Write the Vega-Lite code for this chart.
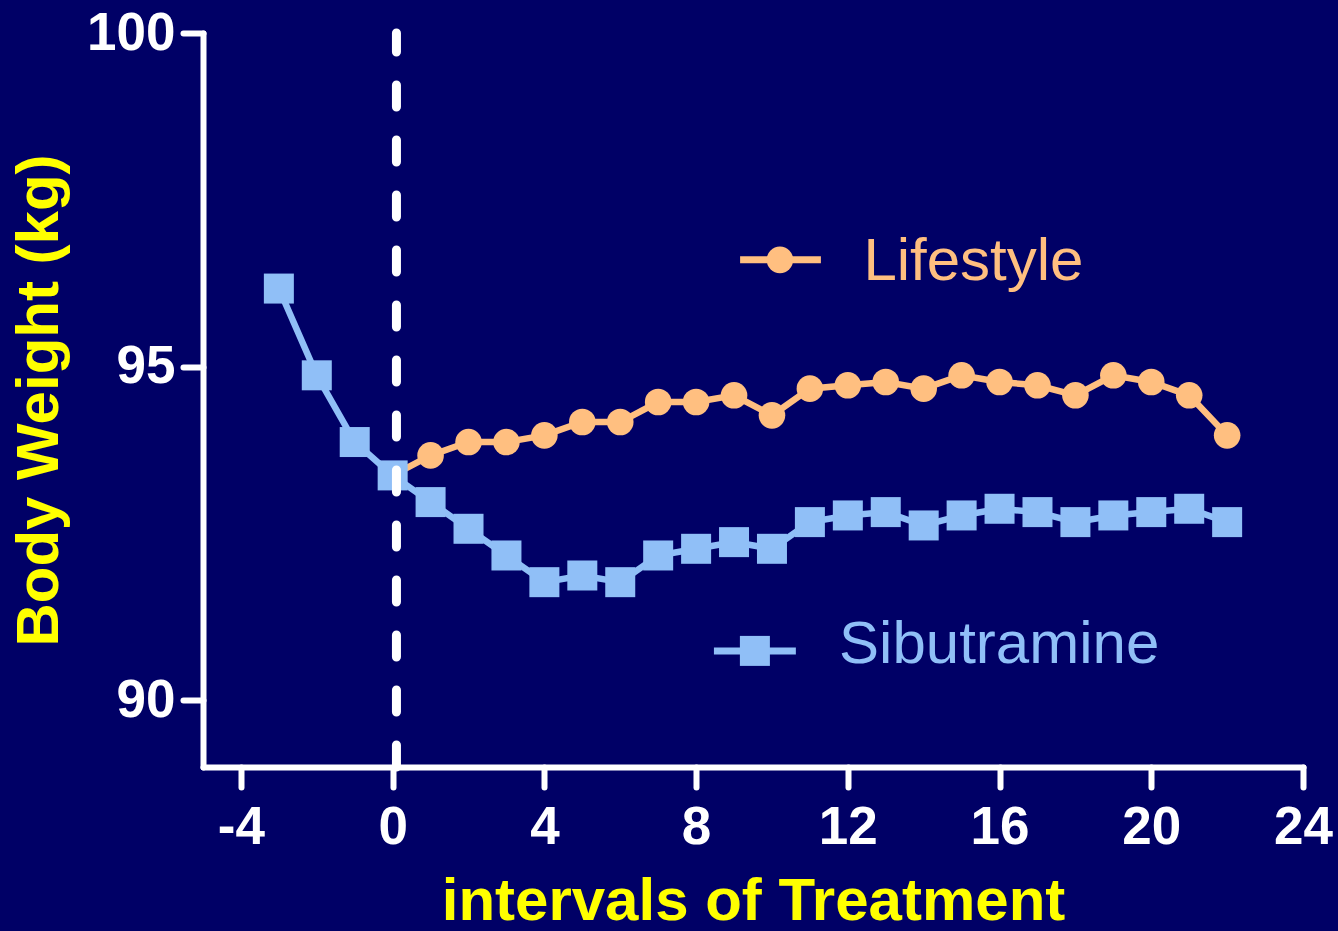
{
  "$schema": "https://vega.github.io/schema/vega-lite/v6.json",
  "width": 1100,
  "height": 734,
  "autosize": {"type": "none"},
  "padding": {"left": 203, "top": 33, "right": 35, "bottom": 164},
  "background": "#000066",
  "config": {
    "view": {"stroke": null},
    "font": "Liberation Sans",
    "axis": {
      "grid": false,
      "domainColor": "white",
      "domainWidth": 6,
      "domainCap": "round",
      "tickColor": "white",
      "tickWidth": 6,
      "tickSize": 20,
      "tickCap": "round",
      "labelFont": "Liberation Sans",
      "labelFontWeight": "bold",
      "labelFontSize": 53,
      "labelColor": "white",
      "labelFlush": false,
      "labelOverlap": false,
      "titleFont": "Liberation Sans",
      "titleFontWeight": "bold",
      "titleFontSize": 60,
      "titleColor": "#FFFF00"
    },
    "axisX": {"labelPadding": 14, "titlePadding": 18},
    "axisY": {"labelPadding": 8, "titlePadding": 16}
  },
  "datasets": {
    "weights": [
      {"t": 0, "weight": 93.37, "series": "Lifestyle"},
      {"t": 1, "weight": 93.67, "series": "Lifestyle"},
      {"t": 2, "weight": 93.87, "series": "Lifestyle"},
      {"t": 3, "weight": 93.87, "series": "Lifestyle"},
      {"t": 4, "weight": 93.97, "series": "Lifestyle"},
      {"t": 5, "weight": 94.17, "series": "Lifestyle"},
      {"t": 6, "weight": 94.17, "series": "Lifestyle"},
      {"t": 7, "weight": 94.47, "series": "Lifestyle"},
      {"t": 8, "weight": 94.47, "series": "Lifestyle"},
      {"t": 9, "weight": 94.57, "series": "Lifestyle"},
      {"t": 10, "weight": 94.27, "series": "Lifestyle"},
      {"t": 11, "weight": 94.67, "series": "Lifestyle"},
      {"t": 12, "weight": 94.72, "series": "Lifestyle"},
      {"t": 13, "weight": 94.77, "series": "Lifestyle"},
      {"t": 14, "weight": 94.67, "series": "Lifestyle"},
      {"t": 15, "weight": 94.87, "series": "Lifestyle"},
      {"t": 16, "weight": 94.77, "series": "Lifestyle"},
      {"t": 17, "weight": 94.72, "series": "Lifestyle"},
      {"t": 18, "weight": 94.57, "series": "Lifestyle"},
      {"t": 19, "weight": 94.87, "series": "Lifestyle"},
      {"t": 20, "weight": 94.77, "series": "Lifestyle"},
      {"t": 21, "weight": 94.57, "series": "Lifestyle"},
      {"t": 22, "weight": 93.97, "series": "Lifestyle"},
      {"t": -3, "weight": 96.17, "series": "Sibutramine"},
      {"t": -2, "weight": 94.87, "series": "Sibutramine"},
      {"t": -1, "weight": 93.87, "series": "Sibutramine"},
      {"t": 0, "weight": 93.37, "series": "Sibutramine"},
      {"t": 1, "weight": 92.97, "series": "Sibutramine"},
      {"t": 2, "weight": 92.57, "series": "Sibutramine"},
      {"t": 3, "weight": 92.17, "series": "Sibutramine"},
      {"t": 4, "weight": 91.77, "series": "Sibutramine"},
      {"t": 5, "weight": 91.87, "series": "Sibutramine"},
      {"t": 6, "weight": 91.77, "series": "Sibutramine"},
      {"t": 7, "weight": 92.17, "series": "Sibutramine"},
      {"t": 8, "weight": 92.27, "series": "Sibutramine"},
      {"t": 9, "weight": 92.37, "series": "Sibutramine"},
      {"t": 10, "weight": 92.27, "series": "Sibutramine"},
      {"t": 11, "weight": 92.67, "series": "Sibutramine"},
      {"t": 12, "weight": 92.77, "series": "Sibutramine"},
      {"t": 13, "weight": 92.82, "series": "Sibutramine"},
      {"t": 14, "weight": 92.62, "series": "Sibutramine"},
      {"t": 15, "weight": 92.77, "series": "Sibutramine"},
      {"t": 16, "weight": 92.87, "series": "Sibutramine"},
      {"t": 17, "weight": 92.82, "series": "Sibutramine"},
      {"t": 18, "weight": 92.67, "series": "Sibutramine"},
      {"t": 19, "weight": 92.77, "series": "Sibutramine"},
      {"t": 20, "weight": 92.82, "series": "Sibutramine"},
      {"t": 21, "weight": 92.87, "series": "Sibutramine"},
      {"t": 22, "weight": 92.67, "series": "Sibutramine"}
    ]
  },
  "layer": [
    {
      "data": {"name": "weights"},
      "transform": [{"filter": "datum.series === 'Lifestyle'"}],
      "mark": {"type": "line", "color": "#FFBF80", "strokeWidth": 6.5},
      "encoding": {
        "x": {
          "field": "t",
          "type": "quantitative",
          "title": "intervals of Treatment",
          "scale": {"domain": [-5, 24], "nice": false, "zero": false},
          "axis": {
            "values": [-4, 0, 4, 8, 12, 16, 20, 24],
            "format": "d",
            "labelExpr": "replace(datum.label, '\u2212', '-')"
          }
        },
        "y": {
          "field": "weight",
          "type": "quantitative",
          "title": "Body Weight (kg)",
          "scale": {"domain": [89, 100], "nice": false, "zero": false},
          "axis": {"values": [90, 95, 100], "format": "d"}
        }
      }
    },
    {
      "data": {"name": "weights"},
      "transform": [{"filter": "datum.series === 'Lifestyle'"}],
      "mark": {"type": "point", "shape": "circle", "filled": true, "opacity": 1, "size": 707, "color": "#FFBF80"},
      "encoding": {
        "x": {"field": "t", "type": "quantitative", "title": "intervals of Treatment"},
        "y": {"field": "weight", "type": "quantitative", "title": "Body Weight (kg)"}
      }
    },
    {
      "data": {"name": "weights"},
      "transform": [{"filter": "datum.series === 'Sibutramine'"}],
      "mark": {"type": "line", "color": "#90BFF7", "strokeWidth": 6.5},
      "encoding": {
        "x": {"field": "t", "type": "quantitative", "title": "intervals of Treatment"},
        "y": {"field": "weight", "type": "quantitative", "title": "Body Weight (kg)"}
      }
    },
    {
      "data": {"name": "weights"},
      "transform": [{"filter": "datum.series === 'Sibutramine'"}],
      "mark": {"type": "point", "shape": "square", "filled": true, "opacity": 1, "size": 900, "color": "#90BFF7"},
      "encoding": {
        "x": {"field": "t", "type": "quantitative", "title": "intervals of Treatment"},
        "y": {"field": "weight", "type": "quantitative", "title": "Body Weight (kg)"}
      }
    },
    {
      "data": {"values": [{"k": 1}]},
      "mark": {"type": "rule", "color": "white", "strokeWidth": 9, "strokeDash": [22, 33], "strokeCap": "round"},
      "encoding": {
        "x": {"datum": 0.1, "type": "quantitative"},
        "y": {"datum": 89, "type": "quantitative"},
        "y2": {"datum": 100}
      }
    },
    {
      "data": {"values": [{"k": 1}]},
      "mark": {"type": "rule", "color": "#FFBF80", "strokeWidth": 7},
      "encoding": {
        "x": {"datum": 9.16, "type": "quantitative"},
        "x2": {"datum": 11.29},
        "y": {"datum": 96.6, "type": "quantitative"}
      }
    },
    {
      "data": {"values": [{"k": 1}]},
      "mark": {"type": "point", "shape": "circle", "filled": true, "opacity": 1, "size": 707, "color": "#FFBF80"},
      "encoding": {
        "x": {"datum": 10.21, "type": "quantitative"},
        "y": {"datum": 96.6, "type": "quantitative"}
      }
    },
    {
      "data": {"values": [{"k": 1}]},
      "mark": {"type": "text", "text": "Lifestyle", "font": "Liberation Sans", "fontSize": 60, "color": "#FFBF80", "align": "left", "baseline": "alphabetic"},
      "encoding": {
        "x": {"datum": 12.41, "type": "quantitative"},
        "y": {"datum": 96.3, "type": "quantitative"}
      }
    },
    {
      "data": {"values": [{"k": 1}]},
      "mark": {"type": "rule", "color": "#90BFF7", "strokeWidth": 7},
      "encoding": {
        "x": {"datum": 8.47, "type": "quantitative"},
        "x2": {"datum": 10.63},
        "y": {"datum": 90.74, "type": "quantitative"}
      }
    },
    {
      "data": {"values": [{"k": 1}]},
      "mark": {"type": "point", "shape": "square", "filled": true, "opacity": 1, "size": 900, "color": "#90BFF7"},
      "encoding": {
        "x": {"datum": 9.55, "type": "quantitative"},
        "y": {"datum": 90.74, "type": "quantitative"}
      }
    },
    {
      "data": {"values": [{"k": 1}]},
      "mark": {"type": "text", "text": "Sibutramine", "font": "Liberation Sans", "fontSize": 60, "color": "#90BFF7", "align": "left", "baseline": "alphabetic"},
      "encoding": {
        "x": {"datum": 11.77, "type": "quantitative"},
        "y": {"datum": 90.56, "type": "quantitative"}
      }
    }
  ]
}
